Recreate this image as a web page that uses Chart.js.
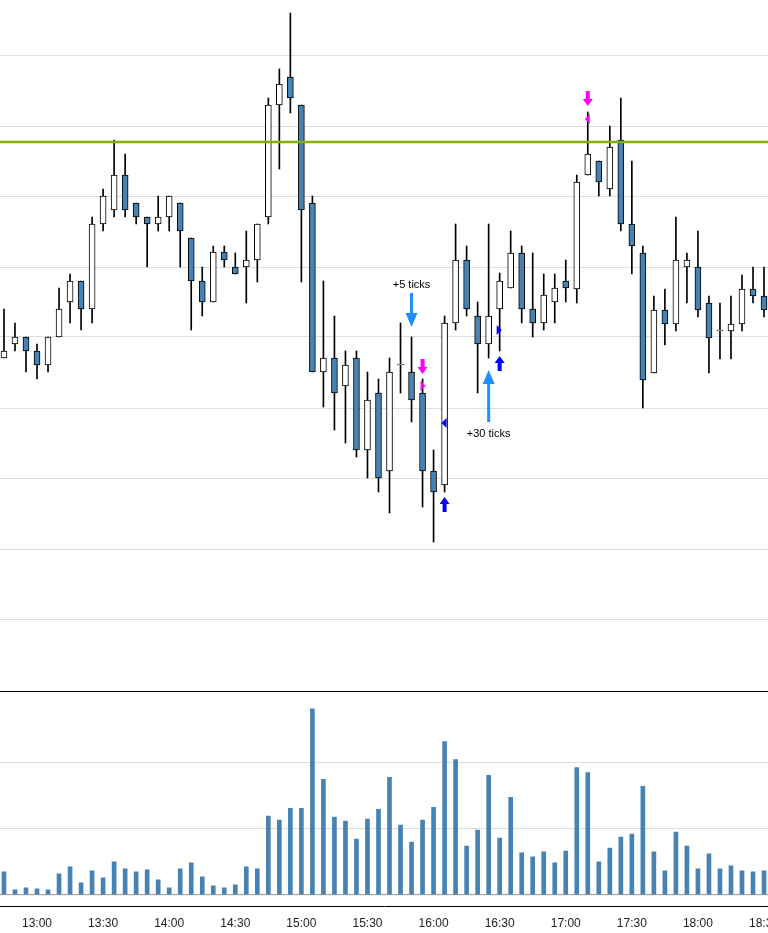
<!DOCTYPE html>
<html>
<head>
<meta charset="utf-8">
<script src="https://cdn.jsdelivr.net/npm/chart.js@4"></script>
<style>
body{margin:0;background:#fff;overflow:hidden;width:768px;height:933px;position:relative}
canvas{position:absolute;left:0}
#price{top:0}
#vol{top:691px}
</style>
</head>
<body>
<canvas id="price" width="768" height="691"></canvas>
<canvas id="vol" width="768" height="242"></canvas>
<script>
// 5 minute candles, 12:45 to 18:30
const opens  = [342,356,363,349,335,363,398,419,391,476,490,525,497,483,476,483,497,462,419,398,448,433,433,440,483,595,623,595,497,328,342,314,342,250,307,229,335,328,307,229,215,377,440,384,356,391,412,447,391,377,398,419,411,525,539,511,560,476,447,327,390,376,433,433,397,369,369,376,411,404]
const highs  = [391,377,363,356,363,412,426,419,483,511,560,546,497,483,504,504,497,462,433,454,454,447,469,476,602,631,687,595,504,419,384,349,349,328,321,342,377,363,321,250,384,476,454,398,476,427,469,454,447,426,426,440,525,588,539,574,602,539,454,404,411,483,447,469,404,397,404,425,433,433]
const lows   = [342,349,328,321,328,363,377,370,377,469,483,483,476,433,469,469,433,370,384,398,433,426,397,418,476,531,587,418,328,293,270,257,243,222,208,187,307,278,193,158,208,370,384,307,342,349,412,377,363,370,377,398,397,525,504,504,469,426,292,327,355,369,397,383,327,341,341,369,397,383]
const closes = [349,363,349,335,363,391,419,391,476,504,525,490,483,476,483,504,469,419,398,448,440,426,440,476,595,616,602,490,328,342,307,335,250,300,222,328,335,300,229,208,377,440,391,356,384,419,447,391,377,405,412,412,518,546,518,553,476,454,320,390,376,440,440,390,362,369,376,411,404,390]
const volumes = [345,75,105,90,75,315,420,180,360,255,495,390,345,375,225,105,390,480,270,135,105,150,420,390,1185,1125,1305,1305,2805,1740,1170,1110,840,1140,1290,1770,1050,795,1125,1320,2310,2040,735,975,1800,855,1470,630,570,645,480,660,1920,1845,495,705,870,915,1635,645,360,945,735,390,615,390,435,360,345,360]
const timeLabels = ["13:00","13:30","14:00","14:30","15:00","15:30","16:00","16:30","17:00","17:30","18:00","18:30"]
const labelIndex = [3,9,15,21,27,33,39,45,51,57,63,69]
const refLevel = 558
const priceGrid = [81,151,222,292,363,433,504,574,645]
const volGrid = [0,1000,2000]

// annotations: candle index, price
const bigArrows = [
  {i:37, tip:373, tail:407, dir:"down", text:"+5 ticks", textAt:415},
  {i:44, tip:330, tail:278, dir:"up", text:"+30 ticks", textAt:266}
]
const smallArrows = [
  {i:40, tip:203, dir:"up", color:"#0000ff"},
  {i:45, tip:344, dir:"up", color:"#0000ff"},
  {i:38, tip:326, dir:"down", color:"#ff00ff"},
  {i:53, tip:594, dir:"down", color:"#ff00ff"}
]
const triangles = [
  {i:38, p:314, dx:-2, dir:"right", color:"#ff00ff"},
  {i:40, p:277, dx:2, dir:"left", color:"#0000ff"},
  {i:45, p:370, dx:-3, dir:"right", color:"#0000ff"},
  {i:53, p:581, dx:2, dir:"left", color:"#ff00ff"}
]

const blue = "#4682b4"
const xmin = -0.36, xmax = 69.36

let bodies = [], wicks = [], bodyColors = []
for (let i=0;i<opens.length;i++){
  let a=Math.min(opens[i],closes[i]), b=Math.max(opens[i],closes[i])
  if (b-a<1) b=a+1
  bodies.push({x:i,y:[a,b]})
  wicks.push({x:i,y:[lows[i],highs[i]]})
  bodyColors.push(closes[i]>=opens[i] ? "#ffffff" : blue)
}

const annotate = {
  id:"annotate",
  afterDatasetsDraw(chart){
    const c=chart.ctx, xs=chart.scales.x, ys=chart.scales.y
    c.save()
    // reference line
    let ry=ys.getPixelForValue(refLevel)
    c.strokeStyle="#7fb20f"; c.lineWidth=2.5
    c.beginPath(); c.moveTo(chart.chartArea.left,ry); c.lineTo(chart.chartArea.right,ry); c.stroke()

    c.font="11px 'Liberation Sans', Arial"; c.textAlign="center"; c.textBaseline="middle"
    for (const a of bigArrows){
      let x=xs.getPixelForValue(a.i), tip=ys.getPixelForValue(a.tip), tail=ys.getPixelForValue(a.tail)
      let s=a.dir=="down"?-1:1
      c.fillStyle="#1e90ff"
      c.fillRect(x-1.5,Math.min(tip,tail)+(s<0?0:12),3,Math.abs(tail-tip)-12)
      c.beginPath(); c.moveTo(x,tip); c.lineTo(x-6,tip+s*14); c.lineTo(x+6,tip+s*14); c.closePath(); c.fill()
      c.fillStyle="#000"; c.fillText(a.text,x,ys.getPixelForValue(a.textAt))
    }
    for (const a of smallArrows){
      let x=xs.getPixelForValue(a.i), tip=ys.getPixelForValue(a.tip)
      let s=a.dir=="down"?-1:1
      c.fillStyle=a.color
      c.beginPath(); c.moveTo(x,tip); c.lineTo(x-5,tip+s*7); c.lineTo(x+5,tip+s*7); c.closePath(); c.fill()
      c.fillRect(x-2,s>0?tip+6:tip-15,4,9)
    }
    for (const t of triangles){
      let x=xs.getPixelForValue(t.i)+t.dx, y=ys.getPixelForValue(t.p)
      let s=t.dir=="right"?1:-1
      c.fillStyle=t.color
      c.beginPath(); c.moveTo(x+s*5,y); c.lineTo(x,y-5); c.lineTo(x,y+5); c.closePath(); c.fill()
    }
    c.restore()
  }
}

new Chart(document.getElementById("price"),{
  type:"bar",
  data:{datasets:[
    {data:bodies,backgroundColor:bodyColors,borderColor:"#000",borderWidth:1,borderSkipped:false,barThickness:6,grouped:false,order:1},
    {data:wicks,backgroundColor:"#000",borderWidth:0,barThickness:1,grouped:false,order:2}
  ]},
  options:{
    responsive:false,animation:false,
    layout:{padding:0},
    plugins:{legend:{display:false},tooltip:{enabled:false}},
    scales:{
      x:{type:"linear",min:xmin,max:xmax,offset:false,display:false},
      y:{min:9,max:700,
        afterBuildTicks:s=>{s.ticks=priceGrid.map(v=>({value:v}))},
        ticks:{display:false},border:{display:false},
        grid:{color:"#dddddd",drawTicks:false}}
    }
  },
  plugins:[annotate]
})

const volFrame = {
  id:"volFrame",
  beforeDatasetsDraw(chart){
    const c=chart.ctx, a=chart.chartArea
    c.save()
    c.strokeStyle="#000"; c.lineWidth=1
    c.beginPath(); c.moveTo(a.left,a.top+0.5); c.lineTo(a.right,a.top+0.5); c.stroke()
    let y0=chart.scales.y.getPixelForValue(0)
    c.strokeStyle="#999"
    c.beginPath(); c.moveTo(a.left,y0); c.lineTo(a.right,y0); c.stroke()
    c.restore()
  }
}

new Chart(document.getElementById("vol"),{
  type:"bar",
  data:{datasets:[{data:volumes.map((v,i)=>({x:i,y:v})),backgroundColor:blue,barThickness:4}]},
  options:{
    responsive:false,animation:false,
    layout:{padding:0},
    plugins:{legend:{display:false},tooltip:{enabled:false}},
    scales:{
      x:{type:"linear",min:xmin,max:xmax,offset:false,
        afterBuildTicks:s=>{s.ticks=labelIndex.map(v=>({value:v}))},
        afterFit:s=>{s.paddingLeft=0;s.paddingRight=0},
        ticks:{autoSkip:false,maxRotation:0,padding:2,color:"#222",font:{family:"'Liberation Sans', Arial",size:12},
          callback:v=>timeLabels[labelIndex.indexOf(v)]},
        grid:{display:false},border:{color:"#000",width:1}},
      y:{min:-180,max:3075,
        afterBuildTicks:s=>{s.ticks=volGrid.map(v=>({value:v}))},
        ticks:{display:false},border:{display:false},
        grid:{color:"#dddddd",drawTicks:false}}
    }
  },
  plugins:[volFrame]
})
</script>
</body>
</html>
